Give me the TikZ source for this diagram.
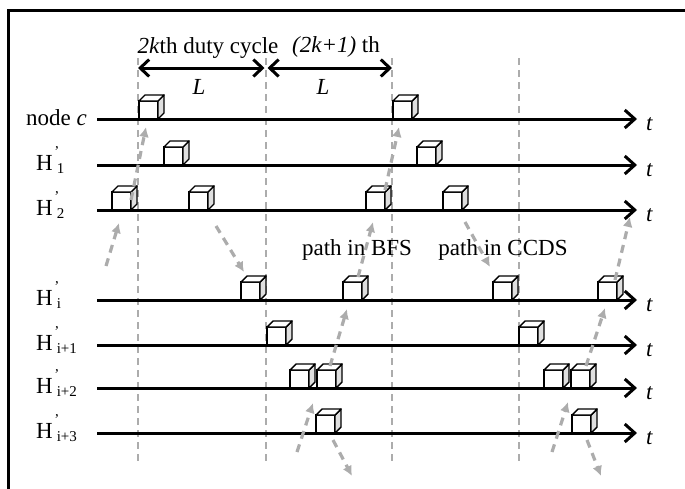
\documentclass[tikz,border=0pt]{standalone}
\usepackage{fontspec}
\setmainfont{Liberation Serif}
\usetikzlibrary{arrows.meta}

\newcommand{\subfont}{\fontsize{15}{17}\selectfont}
\newcommand{\Hp}[1]{H\kern1.5pt\rlap{\raisebox{0.6em}{\subfont '}}\raisebox{-3pt}{\subfont\kern2.5pt #1}}

\tikzset{
  txt/.style={font=\fontsize{23}{27}\selectfont, inner sep=0pt},
  timeline/.style={line width=3pt, -{Straight Barb[length=10pt,width=18pt]}},
  cycleline/.style={line width=3pt, {Straight Barb[length=9pt,width=17pt]}-{Straight Barb[length=9pt,width=17pt]}},
  slotline/.style={gray!65, line width=2.2pt, dash pattern=on 7pt off 5pt},
  pathline/.style={gray!65, line width=3.2pt, dash pattern=on 8pt off 6pt,
    -{Latex[length=10pt,width=10pt]}},
  cube/.pic={
    \filldraw[fill=white, line width=1.4pt] (0,0) rectangle (19,-18);
    \filldraw[fill=gray!25, line width=1.4pt, line join=round] (19,0) -- (25,-6) -- (25,-24) -- (19,-18) -- cycle;
    \filldraw[fill=white, line width=1.4pt, line join=round] (0,-18) -- (6,-24) -- (25,-24) -- (19,-18) -- cycle;
  }
}

\begin{document}
\begin{tikzpicture}[x=1pt,y=-1pt]
  \useasboundingbox (0,0) rectangle (685,488);
  % frame
  \draw[line width=3pt] (8,490) -- (8,10) -- (687,10);
  % duty cycle borders
  \foreach \x/\nm in {138/v0, 266/v1, 392/v2, 519/v3} {
    \coordinate (\nm t) at (\x,58);
    \coordinate (\nm b) at (\x,465);
    \draw[slotline] (\nm t) -- (\nm b);
  }
  % cycle lengths
  \coordinate (d0) at (138,68);
  \coordinate (d1) at (266,68);
  \coordinate (d2) at (392,68);
  \draw[cycleline] (d0) -- ([xshift=-1.5pt]d1);
  \draw[cycleline] ([xshift=1.5pt]d1) -- (d2);
  \node[txt] (cyc1) at (208,48) {\textit{2k}th duty cycle};
  \node[txt] (cyc2) at (336,47) {\textit{(2k+1)} th};
  \node[txt] (len1) at (199,87) {\textit{L}};
  \node[txt] (len2) at (323,87) {\textit{L}};
  % time lines
  \node[txt, anchor=base east] (lc) at (87,125) {node \textit{c}};
  \foreach \y/\nm in {119/c, 165/h1, 210/h2, 300/hi, 345/hj, 388/hk, 433/hl} {
    \coordinate (s\nm) at (97,\y);
    \coordinate (e\nm) at (637,\y);
    \draw[timeline] (s\nm) -- (e\nm);
    \node[txt, anchor=base west] (t\nm) at (646,\y+11) {\textit{t}};
  }
  \foreach \y/\lab/\nm in {165/1/h1, 210/2/h2, 300/i/hi, 345/i+1/hj, 388/i+2/hk, 433/i+3/hl}
    \node[txt, anchor=base west] (l\nm) at (36,\y+5) {\Hp{\lab}};
  % active slots
  \foreach \x/\y in {139/119, 393/119, 164/165, 417/165, 112/210, 189/210, 366/210, 443/210,
      241/300, 343/300, 493/300, 598/300, 267/345, 519/345,
      290/388, 317/388, 544/388, 571/388, 316/433, 572/433}
    \pic at (\x,\y) {cube};
  % forwarding paths
  \node[txt] (bfs) at (357,250) {path in BFS};
  \node[txt] (ccds) at (503,250) {path in CCDS};
  \foreach \n/\sx/\sy/\ex/\ey in {1/106/266/119/223, 2/131/200/146/127, 3/216/226/244/272,
      4/297/452/313/403, 5/330/366/347/309, 6/358/277/373/222, 7/385/190/399/127,
      8/333/440/352/476, 9/465/222/490/267, 10/552/452/568/402, 11/586/366/605/308,
      12/615/280/630/217, 13/587/440/601/476} {
    \coordinate (p\n s) at (\sx,\sy);
    \coordinate (p\n e) at (\ex,\ey);
    \draw[pathline] (p\n s) -- (p\n e);
  }
\end{tikzpicture}
\end{document}
